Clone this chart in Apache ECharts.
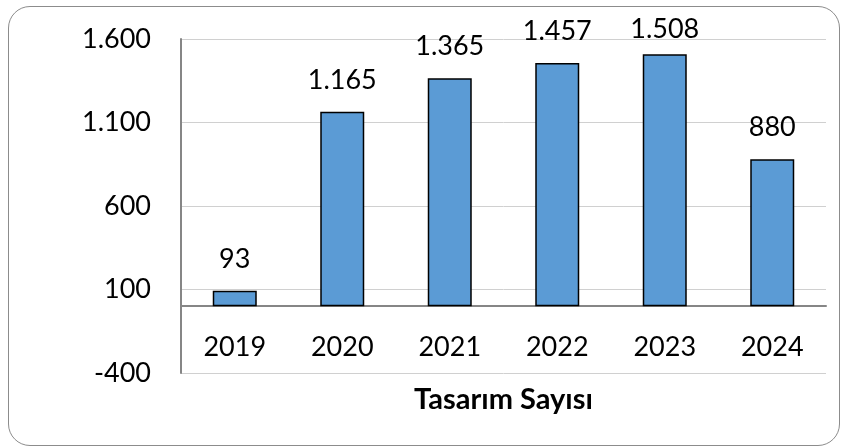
<!DOCTYPE html>
<html>
<head>
<meta charset="utf-8">
<script src="https://cdn.jsdelivr.net/npm/echarts@6/dist/echarts.min.js"></script>
<style>
  html, body { margin: 0; padding: 0; background: #fff; }
  #frame { position: absolute; left: 8px; top: 6px; width: 830px; height: 438px;
           border: 1px solid #8c8c8c; border-radius: 22px; }
  #chart { position: absolute; left: 0; top: 0; width: 845px; height: 446px; }
</style>
</head>
<body>
<div id="frame"></div>
<div id="chart"></div>
<script>
var years = ['2019', '2020', '2021', '2022', '2023', '2024'];
var designCounts = [93, 1165, 1365, 1457, 1508, 880];
var axisTitle = 'Tasarım Sayısı';

function trNumber(v) {
    var s = String(Math.abs(v)).replace(/\B(?=(\d{3})+(?!\d))/g, '.');
    return (v < 0 ? '-' : '') + s;
}

// the tallest bar's label is squeezed against the chart top, like in the original
var barData = designCounts.map(function (v, i) {
    var item = { value: v };
    if (v === Math.max.apply(null, designCounts)) item.label = { distance: 12 };
    return item;
});

var myChart = echarts.init(document.getElementById('chart'));
var option = {
    animation: false,
    textStyle: { fontFamily: 'Lato' },
    grid: { left: 181, right: 19, top: 39, bottom: 73, containLabel: false, outerBoundsMode: 'none' },
    xAxis: {
        type: 'category',
        data: years,
        name: axisTitle,
        nameLocation: 'middle',
        nameGap: 12,
        nameTextStyle: { fontSize: 29, fontWeight: 'bold', color: '#000', fontFamily: 'Lato' },
        axisLine: { onZero: true, lineStyle: { color: '#868686', width: 2 } },
        axisTick: { show: false },
        axisLabel: { margin: -39, fontSize: 27, color: '#000' }
    },
    yAxis: {
        type: 'value',
        min: -400,
        max: 1600,
        interval: 500,
        axisLine: { show: true, lineStyle: { color: '#868686', width: 2 } },
        axisTick: { show: false },
        splitLine: { lineStyle: { color: '#d0d0d0', width: 1 } },
        axisLabel: { margin: 30, fontSize: 27, color: '#000', formatter: trNumber }
    },
    series: [{
        type: 'bar',
        data: barData,
        barWidth: 44,
        itemStyle: { color: '#5b9bd5', borderColor: '#000', borderWidth: 1.5 },
        label: {
            show: true,
            position: 'top',
            distance: 18,
            fontSize: 27,
            color: '#000',
            formatter: function (p) { return trNumber(p.value); }
        }
    }]
};
myChart.setOption(option);
</script>
</body>
</html>
